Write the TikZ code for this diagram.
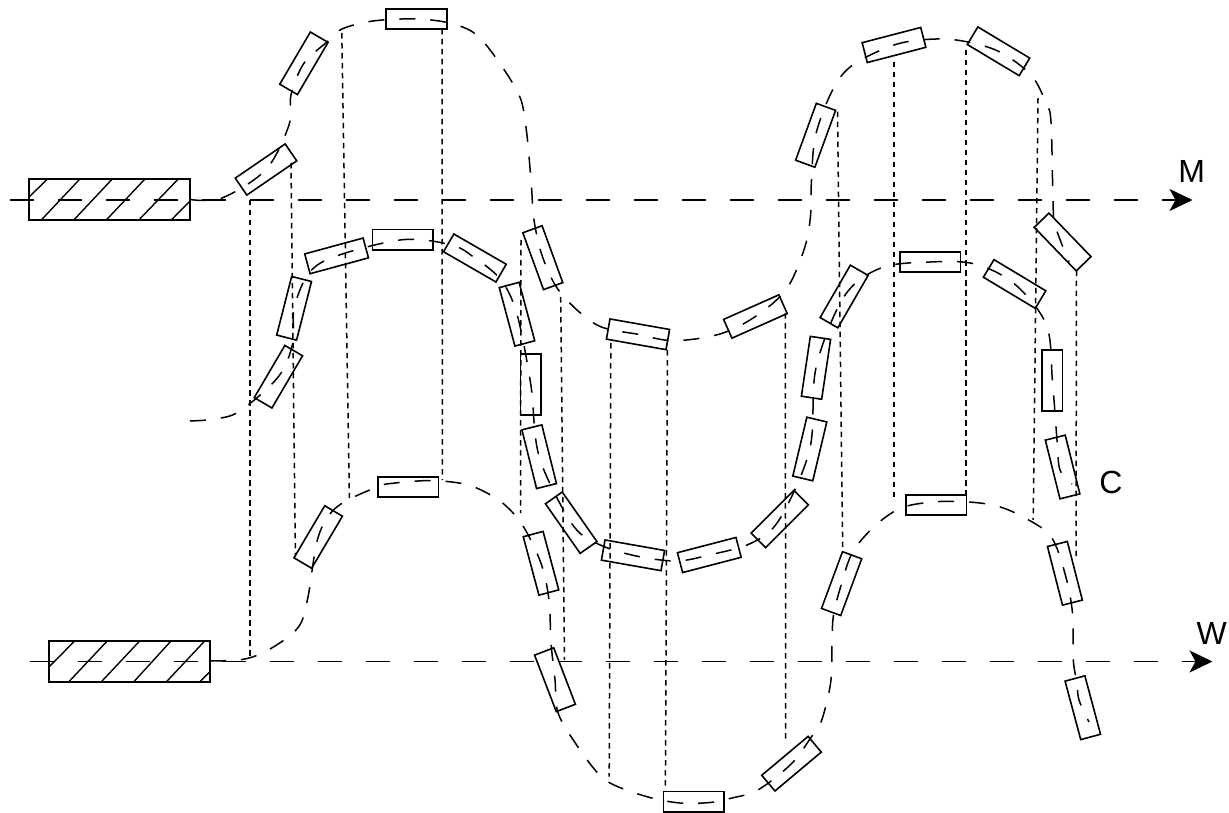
\documentclass[tikz,border=0pt]{standalone}
\usepackage{fontspec}
\setmainfont{Liberation Sans}
\usetikzlibrary{arrows.meta}
\tikzset{
  coil/.style={draw=black,line width=1.6pt,minimum width=60.5pt,minimum height=20.5pt,inner sep=0pt,outer sep=0pt},
  hatchbox/.style={draw=black,line width=1.7pt,minimum width=161pt,minimum height=41pt,inner sep=0pt,outer sep=0pt},
  hatchline/.style={draw=black,line width=1.4pt},
  axisline/.style={draw=black,line width=1.7pt,dash pattern=on 24pt off 24pt,-{Stealth[length=23pt,width=22pt,inset=6pt]}},
  winding/.style={draw=black,line width=1.5pt,dash pattern=on 16pt off 15pt},
  guide/.style={draw=black,line width=1.5pt,dash pattern=on 5.5pt off 4.5pt},
  lbl/.style={font=\fontsize{32}{32}\selectfont,inner sep=0pt,text=black}
}
\begin{document}
\begin{tikzpicture}[x=1pt,y=-1pt]
\useasboundingbox (0,0) rectangle (1229,813);
% hatched boxes
\node[hatchbox] (boxM) at (109.5,199.8) {};
\node[hatchbox] (boxW) at (129.3,661.4) {};
\foreach \a/\b/\c/\d in {29/197/47/179.5,41/220.3/79.6/179.3,73.5/220.3/112/179.3,106/220.3/144.7/179.3,138.5/220.3/178/179.3,171/220.3/190/201}
  \draw[hatchline] (\a,\b) -- (\c,\d);
\foreach \a/\b/\c/\d in {49/667/74.6/641,68.9/681.7/107.2/641,101.4/681.7/139.7/641,133.9/681.7/171/641,166.5/681.7/204.7/641,199.8/681.7/210/671.7}
  \draw[hatchline] (\a,\b) -- (\c,\d);
% coils, first winding
\node[coil,rotate=34.4] (a1) at (266,169.5) {};
\node[coil,rotate=59.6] (a2) at (303.9,63.3) {};
\node[coil] (a3) at (416.5,19) {};
\node[coil,rotate=-70] (a4) at (542.8,257.7) {};
\node[coil,rotate=-10] (a5) at (638,334.3) {};
\node[coil,rotate=24] (a6) at (755.4,316.5) {};
\node[coil,rotate=70] (a7) at (815.6,135.3) {};
\node[coil,rotate=14.6] (a8) at (894,45) {};
\node[coil,rotate=-31] (a9) at (998.5,51.3) {};
\node[coil,rotate=-46] (a10) at (1062.6,242) {};
% coils, middle winding
\node[coil,rotate=59.6] (b1) at (278.4,376.7) {};
\node[coil,rotate=75.7] (b2) at (294.1,308.3) {};
\node[coil,rotate=15.2] (b3) at (336.6,255.9) {};
\node[coil] (b4) at (402.8,239.7) {};
\node[coil,rotate=-30] (b5) at (474.9,258) {};
\node[coil,rotate=-75] (b6) at (517,314.2) {};
\node[coil,rotate=90] (b7) at (530.8,384.5) {};
\node[coil,rotate=-76] (b8) at (539.2,456.7) {};
\node[coil,rotate=-55] (b9) at (571.2,522.7) {};
\node[coil,rotate=-10] (b10) at (633,555.3) {};
\node[coil,rotate=14.6] (b11) at (709.3,555) {};
\node[coil,rotate=45] (b12) at (779.7,519) {};
\node[coil,rotate=76.6] (b13) at (809.8,449) {};
\node[coil,rotate=81.5] (b14) at (816,367.8) {};
\node[coil,rotate=60] (b15) at (844.1,296.5) {};
\node[coil] (b16) at (930.1,262) {};
\node[coil,rotate=-31] (b17) at (1014.6,284) {};
\node[coil,rotate=90] (b18) at (1052.4,380.5) {};
\node[coil,rotate=-76] (b19) at (1062.6,467) {};
% coils, lower winding
\node[coil,rotate=59.4] (c1) at (318.2,537) {};
\node[coil] (c2) at (408.4,487) {};
\node[coil,rotate=-75] (c3) at (541,563.3) {};
\node[coil,rotate=-69] (c4) at (555,679.7) {};
\node[coil] (c5) at (693.7,801.8) {};
\node[coil,rotate=40] (c6) at (791.5,763.7) {};
\node[coil,rotate=69.7] (c7) at (841.6,583.6) {};
\node[coil] (c8) at (936.4,505) {};
\node[coil,rotate=-75.6] (c9) at (1064.9,573.3) {};
\node[coil,rotate=-75] (c10) at (1082.8,707.7) {};
% axes
\coordinate (mstart) at (9.6,200);
\coordinate (mend) at (1192.5,200);
\coordinate (wstart) at (29.5,661.5);
\coordinate (wend) at (1212.5,661.5);
\draw[axisline] (mstart) -- (mend);
\draw[axisline] (wstart) -- (wend);
% vertical guides
\foreach \n/\a/\b/\c/\d in {1/250/200/250/660,2/291/163/295.4/556.7,3/341.8/33/349.4/498,4/442/29/442.4/480,5/521/240/520.5/513,6/560.7/297/564.5/660,7/610.8/343/609.2/776.7,8/667.4/350/665.4/790,9/785.3/313/785.7/743,10/837.5/111.7/842.7/550,11/894/61.7/894/501.7,12/965.8/50/965.8/495,13/1038/98/1033.2/520,14/1076.5/270.7/1076/560}{
  \coordinate (v\n top) at (\a,\b);
  \coordinate (v\n bot) at (\c,\d);
  \draw[guide] (v\n top) -- (v\n bot);
}
% first winding
\draw[winding] plot[smooth,tension=0.55] coordinates {(190,199.5) (222,198) (a1.center) (289,125) (291,95) (a2.center) (327,42) (342,29) (373,21) (a3.center) (453,24) (481,39) (516.6,90) (525.4,123) (531,180) (534,220) (a4.center) (560.7,293) (597,325) (a5.center) (674,340.7) (720,334) (a6.center) (786.5,289) (804.6,248) (810.6,215) (811.4,182) (a7.center) (832.6,90) (852.7,65) (a8.center) (929,39.3) (961,40.7) (a9.center) (1031,75) (1046,103) (1051,122) (1053,200) (1055,225) (1069,262)};
% middle winding
\draw[winding] plot[smooth,tension=0.55] coordinates {(190,421) (215,419) (240,411) (b1.center) (292.8,343) (b2.center) (309,273) (b3.center) (b4.center) (451.6,245) (b5.center) (501,280) (b6.center) (b7.center) (b8.center) (b9.center) (596,543) (b10.center) (675.4,561) (b11.center) (751.6,543) (b12.center) (b13.center) (b14.center) (b15.center) (880.8,268) (b16.center) (975,264) (b17.center) (1046.4,325) (b18.center) (1057,440) (1060,470) (1072,484)};
% lower winding
\draw[winding] plot[smooth,tension=0.55] coordinates {(210,661) (245,659) (271.7,648) (298.5,627) (308,597) (c1.center) (336.8,507) (377,487) (395,483) (430,480.5) (457,482.7) (474.5,487) (501,501.7) (522.4,525) (c3.center) (549,600) (551,643) (c4.center) (556.8,708) (565.6,728) (591,765) (610,783) (648,797) (680,803) (710,802.5) (732,798) (758,790) (c6.center) (810.6,738) (821.4,721) (830.6,683) (832,645) (833.5,615) (c7.center) (852.7,552) (874.8,526) (901,508) (933,502) (965,501.7) (997,506) (1025,518) (1051,536.7) (c9.center) (1072.5,613) (1073.3,660) (1077,683) (1079,700) (1089,722)};
% labels
\node[lbl] (lm) at (1191.6,171.7) {M};
\node[lbl] (lw) at (1211.7,633.3) {W};
\node[lbl] (lc) at (1111,482) {C};
\end{tikzpicture}
\end{document}
